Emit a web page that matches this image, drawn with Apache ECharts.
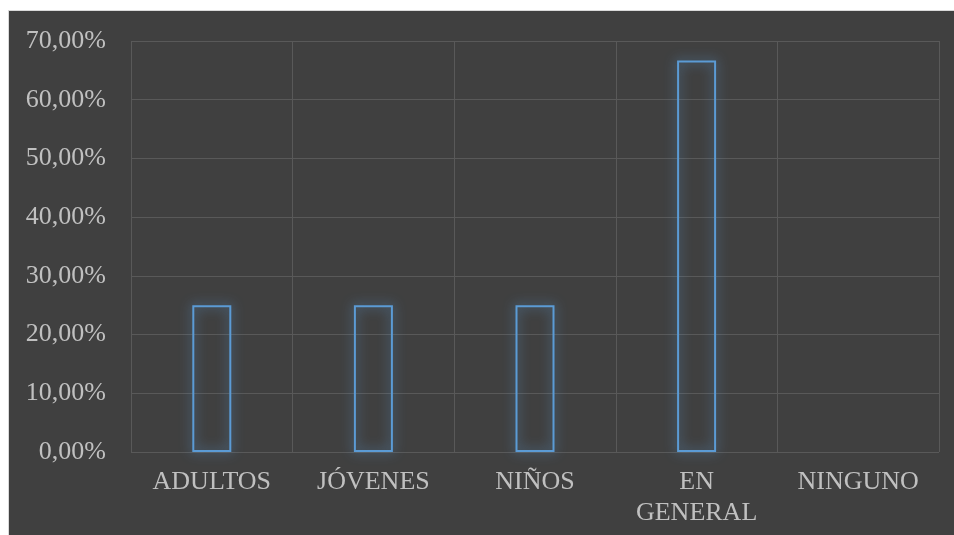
<!DOCTYPE html>
<html><head><meta charset="utf-8">
<script src="https://cdn.jsdelivr.net/npm/echarts@6/dist/echarts.min.js"></script>
<style>
html,body{margin:0;padding:0;background:#fff;width:954px;height:535px;overflow:hidden;}
#c{position:absolute;left:8px;top:10px;width:946px;height:525px;background:#404040;border-left:1px solid #d9d9d9;border-top:1px solid #d9d9d9;}
</style></head><body>
<div id="c"></div>
<script>
const categories = ['ADULTOS', 'JÓVENES', 'NIÑOS', 'EN GENERAL', 'NINGUNO'];
const values = [25.0, 25.0, 25.0, 66.67, null];
const yTicks = { min: 0, max: 70, interval: 10 };

const chart = echarts.init(document.getElementById('c'));
const font = '"Liberation Serif", "Times New Roman", serif';
chart.setOption({
  backgroundColor: '#404040',
  animation: false,
  grid: { left: 122, top: 30, right: 16, bottom: 84 },
  xAxis: {
    type: 'category',
    data: categories,
    boundaryGap: true,
    axisLine: { show: false },
    axisTick: { show: false },
    splitLine: { show: true, lineStyle: { color: '#595959', width: 1 } },
    axisLabel: {
      color: '#c0c0c0', fontFamily: font, fontSize: 26, margin: 15, lineHeight: 31,
      interval: 0,
      formatter: v => v.replace(' ', '\n')
    }
  },
  yAxis: {
    type: 'value',
    min: yTicks.min, max: yTicks.max, interval: yTicks.interval,
    axisLine: { show: false },
    axisTick: { show: false },
    splitLine: { lineStyle: { color: '#595959', width: 1 } },
    axisLabel: {
      color: '#c0c0c0', fontFamily: font, fontSize: 26, margin: 25,
      formatter: v => v.toFixed(2).replace('.', ',') + '%'
    }
  },
  series: [{
    type: 'bar',
    data: values,
    barWidth: 39,
    itemStyle: {
      color: 'rgba(64,64,64,0)',
      borderColor: '#5B9BD5',
      borderWidth: 2,
      shadowBlur: 12,
      shadowColor: 'rgba(91,155,213,0.9)'
    }
  }]
});
</script>
</body></html>
